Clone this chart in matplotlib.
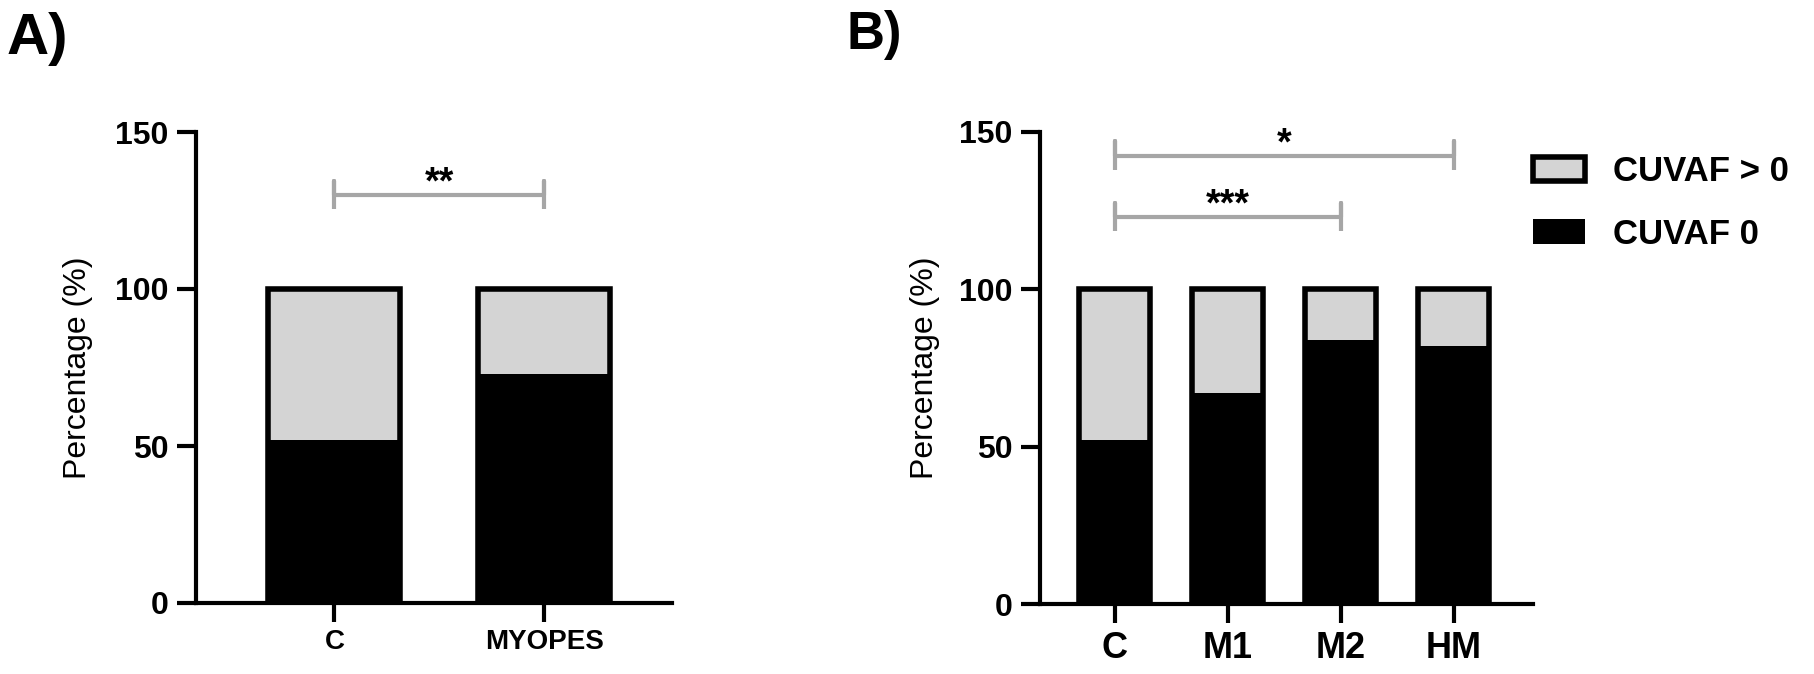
import numpy as np
import matplotlib as mpl
mpl.use('Agg')
import matplotlib.pyplot as plt
from matplotlib.patches import Patch

plt.rcParams['font.family'] = ['Liberation Sans', 'DejaVu Sans']

# Panel A data (percentage of subjects)
groups_a = ['C', 'MYOPES']
cuvaf0_a = np.array([52, 73])
cuvaf_pos_a = np.array([48, 27])

# Panel B data
groups_b = ['C', 'M1', 'M2', 'HM']
cuvaf0_b = np.array([52, 67, 84, 82])
cuvaf_pos_b = np.array([48, 33, 16, 18])

# significance brackets: (group i, group j, height, label)
sig_a = [(0, 1, 130, '**')]
sig_b = [(0, 3, 142.5, '*'), (0, 2, 123, '***')]

yticks = [0, 50, 100, 150]
legend_labels = ['CUVAF > 0', 'CUVAF 0']

light = '#d4d4d4'
brk_col = '#a6a6a6'
bar_w = 0.63
lw = 3


def draw_panel(ax, groups, black, gray, sigs, xlim, xfs, xpad):
    x = np.arange(len(groups))
    ax.bar(x, black, bar_w, color='black', linewidth=0)
    ax.bar(x, gray, bar_w, bottom=black, color=light, linewidth=0)
    ax.bar(x, black + gray, bar_w, fill=False, edgecolor='black', linewidth=4)
    ax.set_xlim(*xlim)
    ax.set_ylim(0, 150)
    ax.set_yticks(yticks)
    ax.set_xticks(x)
    ax.set_xticklabels(groups, fontsize=xfs, fontweight='bold')
    for t in ax.get_yticklabels():
        t.set_fontsize(23)
        t.set_fontweight('bold')
    ax.spines['top'].set_visible(False)
    ax.spines['right'].set_visible(False)
    for s in ['left', 'bottom']:
        ax.spines[s].set_linewidth(lw)
    ax.tick_params(axis='y', length=13.5, width=lw, pad=6.5)
    ax.tick_params(axis='x', length=13.5, width=lw, pad=xpad)
    ax.set_ylabel('Percentage (%)', fontsize=23)
    # brackets
    for i, j, h, lab in sigs:
        ax.plot([x[i], x[i], x[i], x[j], x[j], x[j]],
                [h - 4.5, h + 4.5, h, h, h + 4.5, h - 4.5],
                color=brk_col, linewidth=3, clip_on=False, solid_capstyle='butt')
        ax.text((x[i] + x[j]) / 2, h + 0.5, lab, ha='center', va='baseline',
                fontsize=27, fontweight='bold')


fig = plt.figure(figsize=(18.15, 6.74), dpi=100)

ax_a = fig.add_axes([196 / 1815, 1 - 603 / 674, 476 / 1815, 471 / 674])
draw_panel(ax_a, groups_a, cuvaf0_a, cuvaf_pos_a, sig_a, (-0.66, 1.61), 20, 5)
ax_a.yaxis.set_label_coords(-0.216, 0.5)

ax_b = fig.add_axes([1040 / 1815, 1 - 604 / 674, 493 / 1815, 472 / 674])
draw_panel(ax_b, groups_b, cuvaf0_b, cuvaf_pos_b, sig_b, (-0.66, 3.70), 26, 6)
ax_b.yaxis.set_label_coords(-0.203, 0.5)

# legend
handles = [Patch(facecolor=light, edgecolor='black', linewidth=4),
           Patch(facecolor='black', edgecolor='black', linewidth=0)]
leg = fig.legend(handles, legend_labels, loc='upper left',
                 bbox_to_anchor=(1533 / 1815, 1 - 155 / 674), frameon=False,
                 prop={'size': 25, 'weight': 'bold'}, handlelength=1.5,
                 handleheight=0.7, handletextpad=0.8, labelspacing=0.85,
                 borderpad=0, borderaxespad=0)

fig.text(7 / 1815, 1 - 12 / 674, 'A)', fontsize=42, fontweight='bold', ha='left', va='top')
fig.text(847 / 1815, 1 - 10 / 674, 'B)', fontsize=38, fontweight='bold', ha='left', va='top')

plt.savefig('out.png', dpi=100)
